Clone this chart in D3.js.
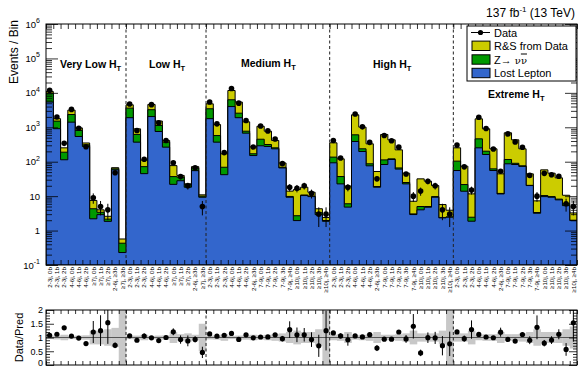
<!DOCTYPE html>
<html>
<head>
<meta charset="utf-8">
<script src="https://cdn.jsdelivr.net/npm/d3@7/dist/d3.min.js"></script>
<style>
  html, body { margin: 0; padding: 0; background: #fff; }
  svg { display: block; font-family: "Liberation Sans", Arial, sans-serif; }
</style>
</head>
<body>
<svg id="chart" width="578" height="367"></svg>
<script>
// ---- data ----
const lostLepton = [5400, 910, 114, 1410, 540, 277, 2.2, 2.9, 1.85, 58, 0.23,
  1900, 370, 45, 2050, 755, 265, 22, 28, 18.2, 55, 9.3,
  1780, 370, 42, 4000, 1900, 675, 151, 290, 277, 237, 66, 9.3, 1.95, 10.4, 9.7, 2.9, 1.86,
  93, 22.7, 4.8, 387, 198, 76, 18.2, 83, 116, 61, 22.7, 2.92, 4.0, 4.77, 9.3, 2.34, 2.44,
  55.5, 13.9, 1.87, 253, 162, 55.5, 11.6, 87, 83, 73, 20.3, 3.19, 9.7, 9.3, 7.8, 5.3, 1.95];
const zinv = [4400, 600, 75, 940, 270, 33, 2.1, 0.5, 0.3, 4, 0.2,
  1700, 250, 27, 1190, 375, 105, 15, 7.5, 3.4, 11, 0.7,
  1670, 205, 27, 2300, 670, 95, 19, 160, 39, 16, 3, 0.5, 0.75, 0.4, 0.3, 0.4, 0.1,
  43, 14.4, 1.2, 217, 39, 11, 0.8, 30, 5, 5, 2.2, 0.13, 1.0, 0.23, 0.4, 0.06, 0.06,
  48.5, 7.8, 0.57, 209, 40, 6.5, 0.4, 29, 7, 3, 0.3, 0.15, 0.7, 0.4, 0.4, 0.7, 0.05];
const rsFromData = [1200, 270, 64, 800, 150, 40, 3.2, 0.6, 0.45, 5, 0.14,
  900, 280, 40, 1360, 390, 45, 40, 4.5, 1.2, 6, 0.9,
  1350, 625, 101, 5400, 2830, 670, 100, 620, 454, 162, 23, 4.2, 12.8, 7.4, 3, 1.0, 0.44,
  218, 84, 13.6, 1700, 773, 244, 33, 505, 311, 155, 21.5, 4.05, 26.8, 22.2, 10.6, 3.3, 1.4,
  149, 52.4, 9.2, 1300, 701, 175, 32.4, 575, 342, 161, 23.8, 3.96, 47.6, 36.7, 25.8, 4.6, 1.26];
const observed = [11900, 1990, 342, 3310, 940, 273, 9, 5, 4, 48, 0,
  4770, 810, 118, 4550, 1350, 415, 93, 37, 20, 67, 5,
  5420, 1260, 184, 13450, 5020, 1580, 267, 1090, 785, 456, 88, 18, 17, 20, 12, 3, 3,
  413, 128, 18, 2440, 1030, 365, 32, 580, 405, 265, 44, 10, 14, 27, 20, 4, 3,
  304, 71, 15, 1960, 920, 235, 53, 643, 376, 263, 40, 10, 46, 42, 38, 6, 5];
// relative uncertainty of the prediction (grey band in the ratio)
const predUnc = [0.06, 0.07, 0.10, 0.06, 0.07, 0.08, 0.25, 0.25, 0.30, 0.35, 1.0,
  0.06, 0.07, 0.10, 0.06, 0.07, 0.08, 0.20, 0.12, 0.15, 0.10, 0.50,
  0.07, 0.08, 0.12, 0.06, 0.07, 0.08, 0.10, 0.08, 0.10, 0.12, 0.15, 0.20, 0.25, 0.20, 0.20, 0.30, 1.0,
  0.10, 0.12, 0.20, 0.08, 0.10, 0.12, 0.20, 0.10, 0.10, 0.12, 0.15, 0.25, 0.15, 0.15, 0.15, 0.25, 1.0,
  0.15, 0.15, 0.25, 0.10, 0.12, 0.12, 0.20, 0.12, 0.12, 0.15, 0.20, 0.30, 0.20, 0.20, 0.20, 0.30, 0.40];

const regionNames = ["Very Low H", "Low H", "Medium H", "High H", "Extreme H"];
const regionBins = [11, 11, 17, 17, 17];
const lowHtCats = ["2-3j, 0b", "2-3j, 1b", "2-3j, 2b", "4-6j, 0b", "4-6j, 1b", "4-6j, 2b",
  "\u22657j, 0b", "\u22657j, 1b", "\u22657j, 2b", "2-6j, \u22653b", "\u22657j, \u22653b"];
const highHtCats = ["2-3j, 0b", "2-3j, 1b", "2-3j, 2b", "4-6j, 0b", "4-6j, 1b", "4-6j, 2b",
  "2-6j, \u22653b", "7-9j, 0b", "7-9j, 1b", "7-9j, 2b", "7-9j, 3b", "7-9j, \u22654b",
  "\u226510j, 0b", "\u226510j, 1b", "\u226510j, 2b", "\u226510j, 3b", "\u226510j, \u22654b"];
const binLabels = [...lowHtCats, ...lowHtCats, ...highHtCats, ...highHtCats, ...highHtCats];
const logTicks = [0.1, 1, 10, 1e2, 1e3, 1e4, 1e5, 1e6];
const ratioTicks = [0, 0.5, 1, 1.5, 2];

// ---- layout ----
const M = {left: 46, right: 577, top: 24, bottom: 265};
const R = {top: 310, bottom: 365};
const regionLabelPos = [[60, 68], [149, 68], [241, 67], [373, 68], [488, 98]];
const colLL = "#3366cc", colZ = "#009900", colRS = "#cccc00";

const nBins = lostLepton.length;
const x = d3.scaleLinear().domain([0, nBins]).range([M.left, M.right]);
const y = d3.scaleLog().domain([0.1, 1e6]).range([M.bottom, M.top]).clamp(true);
const yr = d3.scaleLinear().domain([0, 2]).range([R.bottom, R.top]).clamp(true);

const svg = d3.select("#chart");
const defs = svg.append("defs");
defs.append("clipPath").attr("id", "clipMain").append("rect")
  .attr("x", M.left).attr("y", M.top).attr("width", M.right - M.left).attr("height", M.bottom - M.top);
defs.append("clipPath").attr("id", "clipRatio").append("rect")
  .attr("x", M.left).attr("y", R.top).attr("width", M.right - M.left).attr("height", R.bottom - R.top);

// stacked tops
const topLL = lostLepton;
const topZ = lostLepton.map((v, i) => v + zinv[i]);
const topTot = topZ.map((v, i) => v + rsFromData[i]);
const boundaries = d3.cumsum(regionBins).slice(0, -1);

function steps(arr) {
  const p = arr.map((v, i) => [i, v]);
  p.push([arr.length, arr[arr.length - 1]]);
  return p;
}
const area = d3.area().curve(d3.curveStepAfter)
  .x(d => x(d[0])).y0(M.bottom).y1(d => y(d[1]));

// ---- main panel ----
const gMain = svg.append("g").attr("clip-path", "url(#clipMain)");
[[topTot, colRS], [topZ, colZ], [topLL, colLL]].forEach(([arr, c]) => {
  gMain.append("path").attr("d", area(steps(arr)))
    .attr("fill", c).attr("stroke", "#000").attr("stroke-width", 1);
});

gMain.selectAll("line.bound").data(boundaries).join("line")
  .attr("x1", d => x(d)).attr("x2", d => x(d))
  .attr("y1", M.top).attr("y2", M.bottom)
  .attr("stroke", "#222").attr("stroke-width", 1).attr("stroke-dasharray", "3,2.5");

// data points
const pts = observed.map((n, i) => ({i, n})).filter(d => d.n > 0);
gMain.selectAll("line.err").data(pts).join("line")
  .attr("x1", d => x(d.i + 0.5)).attr("x2", d => x(d.i + 0.5))
  .attr("y1", d => y(Math.max(d.n - Math.sqrt(d.n), 0.1)))
  .attr("y2", d => y(d.n + Math.sqrt(d.n)))
  .attr("stroke", "#000").attr("stroke-width", 1);
gMain.selectAll("circle").data(pts).join("circle")
  .attr("cx", d => x(d.i + 0.5)).attr("cy", d => y(d.n)).attr("r", 2.8).attr("fill", "#000");

// frame + axes
svg.append("rect").attr("x", M.left).attr("y", M.top)
  .attr("width", M.right - M.left).attr("height", M.bottom - M.top)
  .attr("fill", "none").attr("stroke", "#000").attr("stroke-width", 1);

function styleAxis(g) {
  g.select(".domain").remove();
  g.selectAll(".tick line").attr("stroke", "#000").attr("stroke-width", 0.8);
  g.attr("font-family", null).attr("font-size", null);
}
const binEdges = d3.range(0, nBins + 1);
svg.append("g").attr("transform", `translate(0,${M.bottom})`)
  .call(d3.axisBottom(x).tickValues(binEdges).tickSize(-5).tickFormat("")).call(styleAxis);
svg.append("g").attr("transform", `translate(0,${M.top})`)
  .call(d3.axisTop(x).tickValues(binEdges).tickSize(-5).tickFormat("")).call(styleAxis);

const minorLog = [];
logTicks.slice(0, -1).forEach(p => { for (let k = 2; k <= 9; k++) minorLog.push(p * k); });
svg.append("g").attr("transform", `translate(${M.left},0)`)
  .call(d3.axisLeft(y).tickValues(minorLog).tickSize(-6).tickFormat("")).call(styleAxis);
svg.append("g").attr("transform", `translate(${M.right},0)`)
  .call(d3.axisRight(y).tickValues(minorLog).tickSize(-6).tickFormat("")).call(styleAxis);
svg.append("g").attr("transform", `translate(${M.right},0)`)
  .call(d3.axisRight(y).tickValues(logTicks).tickSize(-12).tickFormat("")).call(styleAxis);
const yAxisG = svg.append("g").attr("transform", `translate(${M.left},0)`)
  .call(d3.axisLeft(y).tickValues(logTicks).tickSize(-12).tickPadding(6)).call(styleAxis);
yAxisG.selectAll(".tick text").each(function(d) {
  const t = d3.select(this).text("").attr("font-size", 9.5).attr("fill", "#000");
  const e = Math.round(Math.log10(d));
  if (e === 0) { t.text("1"); return; }
  if (e === 1) { t.text("10"); return; }
  t.append("tspan").text("10");
  t.append("tspan").attr("dy", -4.5).attr("font-size", 7).text(e);
});

// x bin labels
svg.append("g").selectAll("text").data(binLabels).join("text")
  .attr("transform", (d, i) => `translate(${x(i + 0.5) + 2.3},267) rotate(-90)`)
  .attr("text-anchor", "end").attr("font-size", 6.2).attr("fill", "#000")
  .text(d => d);

// region labels
regionNames.forEach((nm, k) => {
  const t = svg.append("text").attr("x", regionLabelPos[k][0]).attr("y", regionLabelPos[k][1])
    .attr("font-size", 10.5).attr("font-weight", "bold").attr("fill", "#000");
  t.append("tspan").text(nm);
  t.append("tspan").attr("dy", 3).attr("font-size", 7.5).text("T");
});

// titles
svg.append("text").attr("transform", "translate(17.5,20) rotate(-90)")
  .attr("text-anchor", "end").attr("font-size", 12).text("Events / Bin");
const lumi = svg.append("text").attr("x", 575).attr("y", 17).attr("text-anchor", "end").attr("font-size", 12);
lumi.append("tspan").text("137 fb");
lumi.append("tspan").attr("dy", -5).attr("font-size", 8).text("-1");
lumi.append("tspan").attr("dy", 5).text(" (13 TeV)");

// legend
const lg = svg.append("g");
lg.append("rect").attr("x", 467).attr("y", 26).attr("width", 109).attr("height", 55)
  .attr("fill", "#fff").attr("stroke", "#000").attr("stroke-width", 1);
const legendItems = [
  {label: "Data", kind: "data", yc: 32.5},
  {label: "R&S from Data", kind: colRS, yc: 45.8},
  {label: "Z\u2192 ", kind: colZ, yc: 59.5, nu: true},
  {label: "Lost Lepton", kind: colLL, yc: 73}
];
legendItems.forEach(it => {
  if (it.kind === "data") {
    lg.append("line").attr("x1", 471).attr("x2", 490).attr("y1", it.yc).attr("y2", it.yc)
      .attr("stroke", "#000").attr("stroke-width", 1);
    lg.append("circle").attr("cx", 480.5).attr("cy", it.yc).attr("r", 2.6).attr("fill", "#000");
  } else {
    lg.append("rect").attr("x", 472).attr("y", it.yc - 4.7).attr("width", 18).attr("height", 9.4)
      .attr("fill", it.kind).attr("stroke", "#000").attr("stroke-width", 1);
  }
  const t = lg.append("text").attr("x", 494).attr("y", it.yc + 4).attr("font-size", 11).text(it.label);
  if (it.nu) {
    t.append("tspan").attr("font-family", "'DejaVu Serif', serif").attr("font-size", 10).text("\u03bd");
    t.append("tspan").attr("font-family", "'DejaVu Serif', serif").attr("font-size", 10)
      .style("text-decoration", "overline").text("\u03bd");
  }
});

// ---- ratio panel ----
const gRatio = svg.append("g").attr("clip-path", "url(#clipRatio)");
gRatio.selectAll("rect.band").data(predUnc).join("rect")
  .attr("x", (d, i) => x(i)).attr("width", (d, i) => x(i + 1) - x(i) + 0.3)
  .attr("y", d => yr(1 + d)).attr("height", d => yr(1 - d) - yr(1 + d))
  .attr("fill", "#c8c8c8");
gRatio.append("line").attr("x1", M.left).attr("x2", M.right).attr("y1", yr(1)).attr("y2", yr(1))
  .attr("stroke", "#555").attr("stroke-width", 1.2);
gRatio.selectAll("line.bound").data(boundaries).join("line")
  .attr("x1", d => x(d)).attr("x2", d => x(d))
  .attr("y1", R.top).attr("y2", R.bottom)
  .attr("stroke", "#222").attr("stroke-width", 1).attr("stroke-dasharray", "3,2.5");

const ratioPts = pts.map(d => {
  const p = topTot[d.i];
  return {i: d.i, r: d.n / p, e: Math.sqrt(d.n) / p};
});
gRatio.selectAll("line.err").data(ratioPts).join("line")
  .attr("x1", d => x(d.i + 0.5)).attr("x2", d => x(d.i + 0.5))
  .attr("y1", d => yr(d.r - d.e)).attr("y2", d => yr(d.r + d.e))
  .attr("stroke", "#000").attr("stroke-width", 1);
gRatio.selectAll("circle").data(ratioPts).join("circle")
  .attr("cx", d => x(d.i + 0.5)).attr("cy", d => yr(d.r)).attr("r", 2.6).attr("fill", "#000");

svg.append("rect").attr("x", M.left).attr("y", R.top)
  .attr("width", M.right - M.left).attr("height", R.bottom - R.top)
  .attr("fill", "none").attr("stroke", "#000").attr("stroke-width", 1);
svg.append("g").attr("transform", `translate(0,${R.bottom})`)
  .call(d3.axisBottom(x).tickValues(binEdges).tickSize(-4).tickFormat("")).call(styleAxis);
svg.append("g").attr("transform", `translate(0,${R.top})`)
  .call(d3.axisTop(x).tickValues(binEdges).tickSize(-4).tickFormat("")).call(styleAxis);
const minorRatio = d3.range(0, 21).map(k => k / 10).filter(v => Math.abs(v * 2 - Math.round(v * 2)) > 1e-6);
svg.append("g").attr("transform", `translate(${M.left},0)`)
  .call(d3.axisLeft(yr).tickValues(minorRatio).tickSize(-4).tickFormat("")).call(styleAxis);
svg.append("g").attr("transform", `translate(${M.right},0)`)
  .call(d3.axisRight(yr).tickValues(minorRatio).tickSize(-4).tickFormat("")).call(styleAxis);
svg.append("g").attr("transform", `translate(${M.right},0)`)
  .call(d3.axisRight(yr).tickValues(ratioTicks).tickSize(-8).tickFormat("")).call(styleAxis);
svg.append("g").attr("transform", `translate(${M.left},0)`)
  .call(d3.axisLeft(yr).tickValues(ratioTicks).tickSize(-8).tickPadding(3).tickFormat(d3.format("")))
  .call(styleAxis)
  .selectAll(".tick text").attr("font-size", 9).attr("fill", "#000")
  .attr("dy", d => d === 0 ? "0" : "0.32em");

svg.append("text").attr("transform", `translate(23,${(R.top + R.bottom) / 2}) rotate(-90)`)
  .attr("text-anchor", "middle").attr("font-size", 11).text("Data/Pred");
</script>
</body>
</html>
